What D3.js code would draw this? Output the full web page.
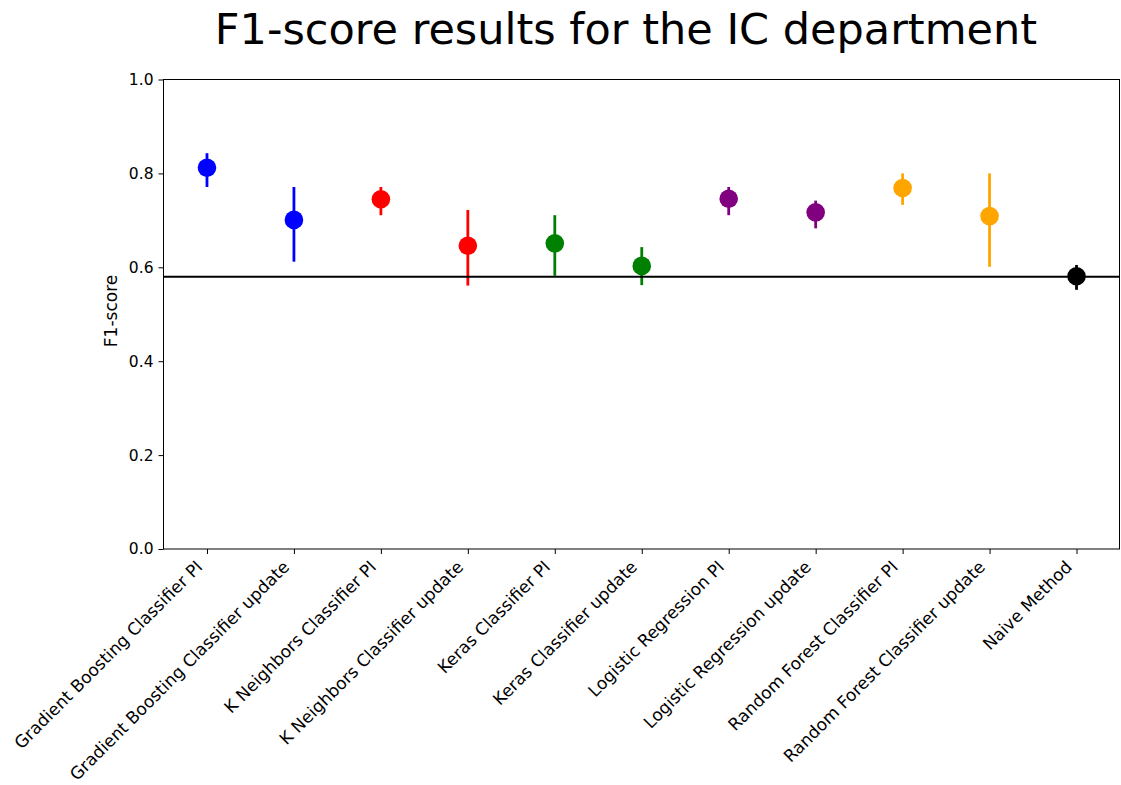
<!DOCTYPE html>
<html>
<head>
<meta charset="utf-8">
<script src="https://cdn.jsdelivr.net/npm/d3@7"></script>
<style>
  body { margin: 0; background: #fff; }
  svg { font-family: "DejaVu Sans", sans-serif; }
</style>
</head>
<body>
<div id="chart"></div>
<script>
// data
var models = ["Gradient Boosting Classifier PI", "Gradient Boosting Classifier update",
    "K Neighbors Classifier PI", "K Neighbors Classifier update",
    "Keras Classifier PI", "Keras Classifier update",
    "Logistic Regression PI", "Logistic Regression update",
    "Random Forest Classifier PI", "Random Forest Classifier update",
    "Naive Method"];
var f1Mean = [0.812, 0.701, 0.745, 0.646, 0.651, 0.603, 0.746, 0.717, 0.769, 0.709, 0.581];
var f1Low  = [0.771, 0.612, 0.711, 0.561, 0.582, 0.562, 0.711, 0.683, 0.733, 0.601, 0.552];
var f1High = [0.843, 0.771, 0.771, 0.722, 0.711, 0.643, 0.771, 0.742, 0.800, 0.800, 0.605];
var pointColors = ["blue", "blue", "red", "red", "green", "green",
    "purple", "purple", "orange", "orange", "black"];
var baseline = 0.58;
var yTicks = [0, 0.2, 0.4, 0.6, 0.8, 1.0];

var width = 1121, height = 785;
var margin = {top: 79.5, right: 1, bottom: 236, left: 163.5};

var svg = d3.select("#chart").append("svg")
    .attr("width", width)
    .attr("height", height);

var rows = models.map(function(m, i) {
    return {name: m, mean: f1Mean[i], lo: f1Low[i], hi: f1High[i], color: pointColors[i], idx: i};
});

var xScale = d3.scaleLinear()
    .domain([-0.5, models.length - 0.5])
    .range([margin.left, width - margin.right]);
var yScale = d3.scaleLinear()
    .domain([0, 1])
    .range([height - margin.bottom, margin.top]);

// title
svg.append("text")
    .attr("x", 626)
    .attr("y", 44)
    .attr("text-anchor", "middle")
    .style("font-size", "43px")
    .text("F1-score results for the IC department");

// y axis
var yAxis = svg.append("g")
    .attr("transform", "translate(" + margin.left + ",0)")
    .call(d3.axisLeft(yScale).tickValues(yTicks).tickFormat(d3.format(".1f")).tickSize(5).tickPadding(5));
yAxis.selectAll("text").style("font-size", "15.5px").style("font-family", "DejaVu Sans");
yAxis.select(".domain").remove();

// x axis
var xAxis = svg.append("g")
    .attr("transform", "translate(0," + yScale(0) + ")")
    .call(d3.axisBottom(xScale).tickValues(d3.range(models.length)).tickFormat(function(d) { return models[d]; }).tickSize(5));
xAxis.select(".domain").remove();
xAxis.selectAll("text")
    .style("font-size", "17px")
    .style("font-family", "DejaVu Sans")
    .attr("text-anchor", "end")
    .attr("dy", null)
    .attr("y", null)
    .attr("transform", "translate(-4,19) rotate(-45)");

// frame
svg.append("rect")
    .attr("x", margin.left)
    .attr("y", yScale(1))
    .attr("width", xScale(models.length - 0.5) - margin.left - 0.5)
    .attr("height", yScale(0) - yScale(1))
    .attr("fill", "none")
    .attr("stroke", "black")
    .attr("stroke-width", 1);

// y label
svg.append("text")
    .attr("transform", "translate(117,311) rotate(-90)")
    .attr("text-anchor", "middle")
    .style("font-size", "17px")
    .text("F1-score");

// error bars
svg.selectAll(".err")
    .data(rows)
    .enter().append("line")
    .attr("class", "err")
    .attr("x1", d => xScale(d.idx))
    .attr("x2", d => xScale(d.idx))
    .attr("y1", d => yScale(d.lo))
    .attr("y2", d => yScale(d.hi))
    .attr("stroke", d => d.color)
    .attr("stroke-width", 2.8);

// baseline of naive method
svg.append("line")
    .attr("x1", margin.left)
    .attr("x2", width - margin.right)
    .attr("y1", yScale(baseline))
    .attr("y2", yScale(baseline))
    .attr("stroke", "black")
    .attr("stroke-width", 2);

// points
svg.selectAll(".pt")
    .data(rows)
    .enter().append("circle")
    .attr("class", "pt")
    .attr("cx", d => xScale(d.idx))
    .attr("cy", d => yScale(d.mean))
    .attr("r", 9.3)
    .attr("fill", d => d.color);
</script>
</body>
</html>
